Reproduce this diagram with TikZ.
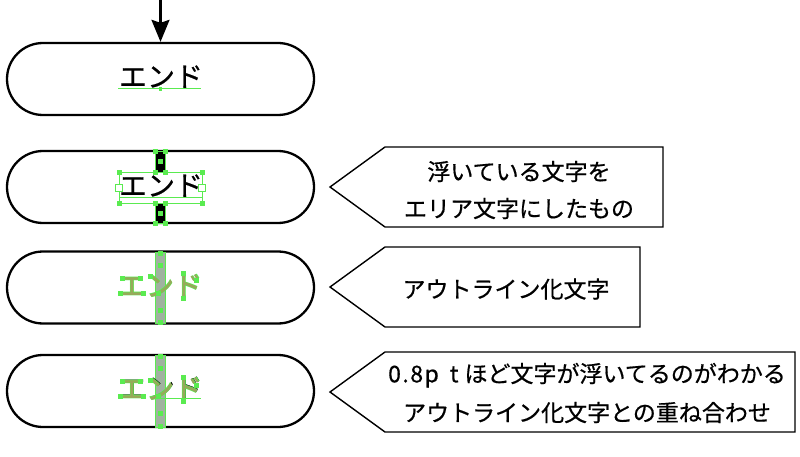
\documentclass[tikz,border=0pt]{standalone}
\usepackage{fontspec}
\setmainfont[FakeBold=0.6]{Noto Sans CJK JP}
\newfontfamily\jpbold{Noto Sans CJK JP Bold}
\usetikzlibrary{arrows.meta}
\definecolor{selgreen}{RGB}{90,235,80}
\definecolor{bargray}{RGB}{160,178,160}
\definecolor{olivefill}{RGB}{150,170,90}
\tikzset{
  term/.style={draw=black, line width=2.3pt, rounded corners=36pt, minimum width=307pt, minimum height=72pt, inner sep=0pt, fill=white},
  callout/.style={draw=black, line width=1.4pt, fill=white, line join=miter},
  calltext/.style={align=center, font=\fontsize{23}{37}\selectfont, inner sep=0pt},
  endtext/.style={font=\fontsize{28}{30}\selectfont, inner sep=0pt, anchor=base},
  handle/.style={fill=selgreen, draw=selgreen, minimum size=3.5pt, inner sep=0pt},
  whandle/.style={fill=white, draw=selgreen, line width=0.6pt, minimum size=7pt, inner sep=0pt},
  selline/.style={draw=selgreen, line width=0.8pt},
}
\begin{document}
\begin{tikzpicture}[x=1pt,y=-1pt]
\useasboundingbox (0,0) rectangle (800,457);
% terminals
\node[term] (t1) at (160.5,79) {};
\node[term] (t2) at (160.5,187) {};
\node[term] (t3) at (160.5,287.5) {};
\node[term] (t4) at (160.5,391) {};
% arrow
\coordinate (src) at (160.5,-2);
\draw[line width=2.4pt, -{Stealth[length=22pt,width=18pt,inset=3pt]}] (src) -- (t1.north);
% terminal 1 text
\node[endtext] (e1) at (161,87) {エンド};
\draw[selline] (118,88.5) -- (201,88.5);
\node[handle, minimum size=2.5pt] (h1) at (160,88.5) {};
% terminal 2: area text selected
\node[endtext] (e2) at (161,196) {エンド};
\draw[selline] (119,172) rectangle (202,203);
\draw[selline] (119,197) -- (202,197);
\draw[fill=black, draw=selgreen, line width=0.8pt] (155,151) rectangle (165,172);
\draw[fill=black, draw=selgreen, line width=0.8pt] (155,203) rectangle (165,223);
\foreach \p/\n in {{119,172}/a,{202,172}/b,{119,203}/c,{202,203}/d,{155,151}/e,{165,151}/f,{155,223}/g,{165,223}/h,{160,161}/i,{160,213}/j,{155,172}/k,{165,172}/l,{155,203}/m,{165,203}/n}
  \node[handle] (h2\n) at (\p) {};
\node[whandle] (w2a) at (119,188) {};
\node[whandle] (w2b) at (202,188) {};
% terminal 3: outlined text
\draw[fill=bargray, draw=selgreen, line width=0.8pt] (155,252) rectangle (165,323);
\node[endtext, text=selgreen, font=\jpbold\fontsize{28}{30}\selectfont] (e3) at (160,296) {エンド};
\node[endtext, text=olivefill, font=\fontsize{28}{30}\selectfont] (e3b) at (160,296) {エンド};
\foreach \p/\n in {{160,253}/a,{160,265}/b,{160,310}/c,{160,322}/d,{122,278}/e,{140,278}/f,{120,293}/g,{143,293}/h,{150,276}/i,{158,293}/j,{183,273}/k,{183,298}/l,{196,280}/m}
  \node[handle] (h3\n) at (\p) {};
% terminal 4: overlay
\draw[fill=bargray, draw=selgreen, line width=0.8pt] (155,355) rectangle (165,427);
\node[endtext] (e4k) at (160.8,398.2) {エンド};
\node[endtext, text=selgreen, font=\jpbold\fontsize{28}{30}\selectfont] (e4) at (160,399) {エンド};
\node[endtext, text=olivefill, font=\fontsize{28}{30}\selectfont] (e4b) at (160,399) {エンド};
\draw[selline] (155,398.5) -- (201,398.5);
\foreach \p/\n in {{160,356}/a,{160,368}/b,{160,413}/c,{160,426}/d,{122,381}/e,{140,381}/f,{120,396}/g,{143,396}/h,{150,380}/i,{158,396}/j,{183,377}/k,{183,401}/l,{196,385}/m}
  \node[handle] (h4\n) at (\p) {};
% callouts
\draw[callout] (330,187) -- (385,147) -- (663,147) -- (663,227) -- (385,227) -- cycle;
\node[calltext] (c1) at (519,190) {浮いている文字を\\エリア文字にしたもの};
\draw[callout] (330,287) -- (385,247) -- (640,247) -- (640,327) -- (385,327) -- cycle;
\node[calltext] (c2) at (506,289) {アウトライン化文字};
\draw[callout] (330,392) -- (385,352) -- (795,352) -- (795,432) -- (385,432) -- cycle;
\node[calltext, font=\fontsize{23}{39}\selectfont] (c3) at (587,393) {0\kern1.5pt.\kern1.5pt8\kern1.5pt p\hspace{11pt}t\hspace{6pt}ほど文字が浮いてるのがわかる\\アウトライン化文字との重ね合わせ};
\end{tikzpicture}
\end{document}
